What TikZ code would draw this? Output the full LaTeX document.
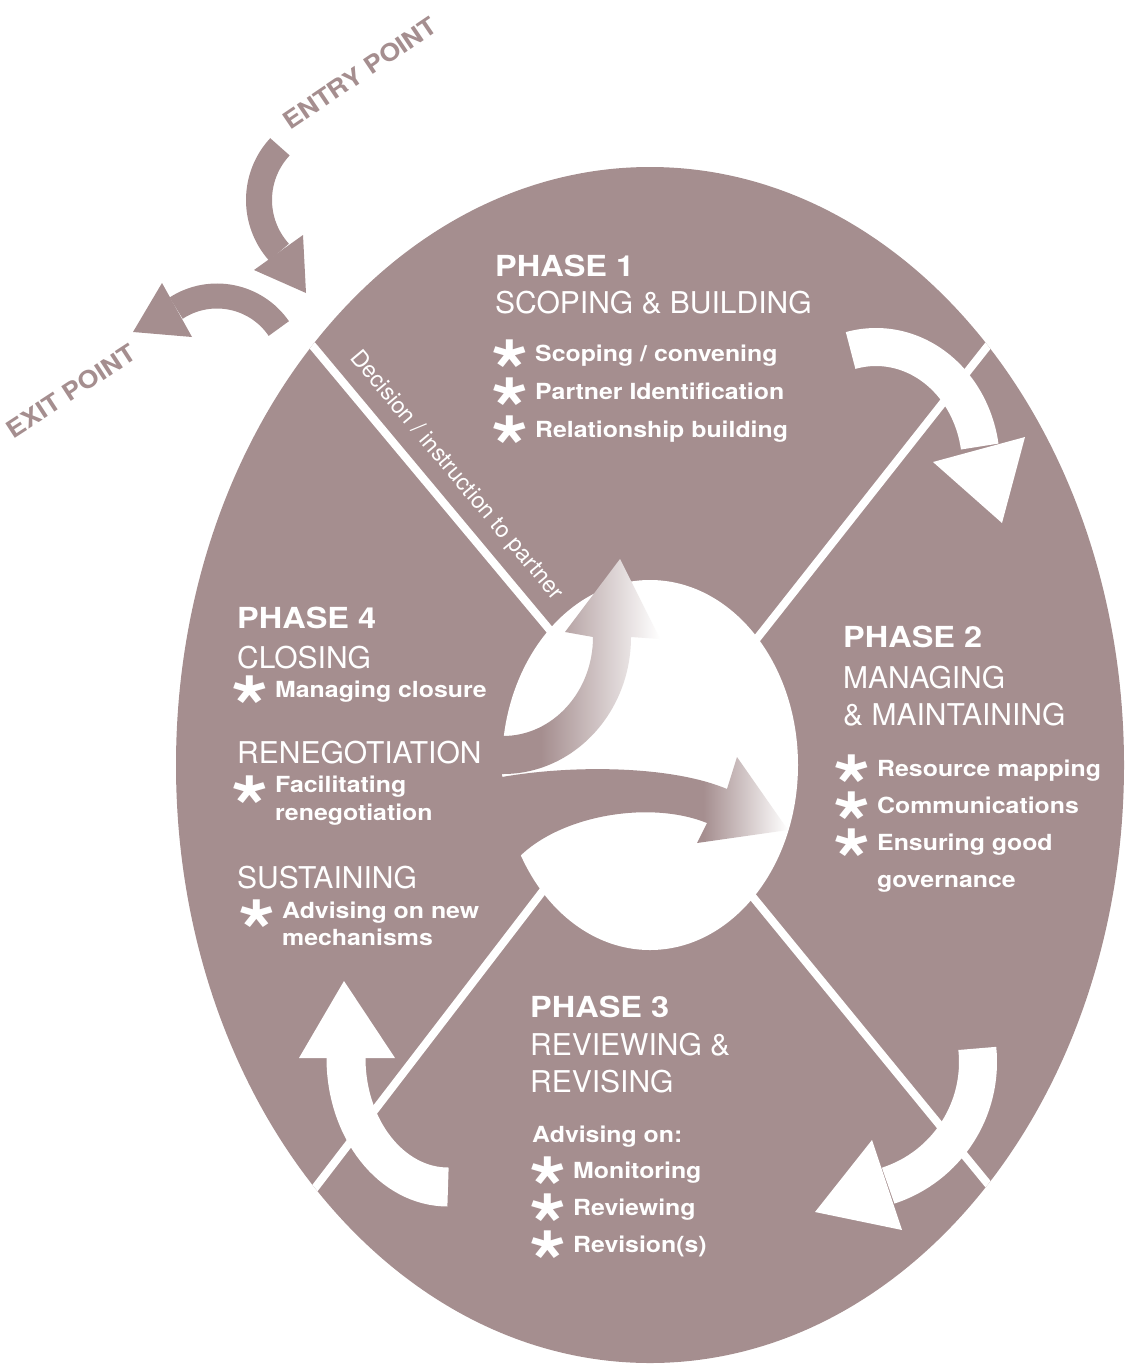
\documentclass[tikz,border=0pt]{standalone}
\usepackage{fontspec}
\setmainfont{TeX Gyre Heros}[BoldFeatures={FakeStretch=1.12}]
\definecolor{mauve}{RGB}{165,142,143}
\pgfdeclarehorizontalshading{upfade}{100bp}{color(0bp)=(mauve); color(40bp)=(mauve); color(75bp)=(white); color(100bp)=(white)}
\pgfdeclarehorizontalshading{rightfade}{100bp}{color(0bp)=(mauve); color(61bp)=(mauve); color(75bp)=(white); color(100bp)=(white)}
\newcommand{\itemstar}[1][0pt]{\llap{\fontsize{86}{86}\selectfont\bfseries\raisebox{\dimexpr-41.5pt-#1\relax}[0pt][0pt]{*}\hspace{6.5pt}}}

\begin{document}
\begin{tikzpicture}[x=1pt, y=1pt,
  phasehead/.style={font=\fontsize{29}{29}\selectfont\bfseries, text=white, anchor=base west, inner sep=0pt},
  phasename/.style={font=\fontsize{30}{30}\selectfont, text=white, anchor=base west, inner sep=0pt},
  task/.style={font=\fontsize{22.2}{22.2}\selectfont\bfseries, text=white, anchor=base west, inner sep=0pt},
  waylabel/.style={font=\fontsize{24}{24}\selectfont\bfseries, text=mauve, inner sep=0pt},
  divider/.style={white, line width=8pt},
  band/.style={line width=38pt}]
  \useasboundingbox (0,0) rectangle (1125,-1365);

  \fill[mauve] (650,-765) ellipse[x radius=474, y radius=598];
  \begin{scope}
    \clip (650,-765) ellipse[x radius=474, y radius=598];
    \draw[divider] (291,-320) -- (650,-750);
    \draw[divider] (1009,-319) -- (669,-750);
    \draw[divider] (657,-780) -- (1010,-1211);
    \draw[divider] (628,-780) -- (295,-1214);
  \end{scope}
  \fill[white] (650,-765) ellipse[x radius=148, y radius=185];

  \shade[shading=upfade] (490,-736) -- (503,-736) arc[start angle=270, end angle=360, x radius=90, y radius=99]
    -- (565,-632) -- (620,-559) -- (660,-639) -- (631,-637)
    arc[start angle=0, end angle=-90, x radius=128, y radius=137] -- (490,-774) -- cycle;
  \shade[shading=rightfade] (485,-778) -- (502,-777) .. controls (570,-765) and (670,-765) .. (727,-789)
    -- (737,-757) -- (788,-830) -- (697,-843) -- (707,-823)
    .. controls (650,-800) and (560,-815) .. (518,-858) -- (485,-860) -- cycle;

  \draw[band, white] (876,-465) ++(104:105 and 118) arc[start angle=104, end angle=9, x radius=105, y radius=118];
  \fill[white] (933,-462) -- (1002,-523) -- (1025,-437) -- cycle;
  \draw[band, white] (848,-1062) ++(6:130) arc[start angle=6, end angle=-72, radius=130];
  \fill[white] (872,-1140) -- (815,-1212) -- (902,-1230) -- cycle;
  \draw[band, white, line width=39pt] (448,-1058) ++(270:102 and 129) arc[start angle=270, end angle=180, x radius=102, y radius=129];
  \fill[white] (299,-1058) -- (344,-981) -- (395,-1058) -- cycle;

  \draw[mauve, line width=26pt] (337,-200) ++(137:78) arc[start angle=137, end angle=222, radius=78];
  \fill[mauve] (254,-270) -- (306,-293) -- (303,-235) -- cycle;
  \draw[mauve, line width=25pt] (217,-371) ++(34.5:75) arc[start angle=34.5, end angle=123, radius=75];
  \fill[mauve] (162,-283) -- (133,-332) -- (192,-337) -- cycle;

  \node[waylabel, rotate=34] (entry) at (360,-73) {ENTRY POINT};
  \node[waylabel, rotate=33] (exit) at (71,-391) {EXIT POINT};
  \node[font=\fontsize{23}{23}\selectfont, text=white, inner sep=0pt, rotate=-50] (decision) at (456,-476) {Decision / instruction to partner};

  \node[phasehead] (p1) at (495,-276) {PHASE 1};
  \node[phasename] (p1name) at (495,-313) {SCOPING \& BUILDING};
  \node[task] (p1a) at (535,-361) {\itemstar Scoping / convening};
  \node[task] (p1b) at (535,-399) {\itemstar Partner Identification};
  \node[task] (p1c) at (535,-437) {\itemstar Relationship building};

  \node[phasehead] (p2) at (843,-647) {PHASE 2};
  \node[phasename] (p2name) at (843,-688) {MANAGING};
  \node[phasename] (p2more) at (843,-725) {\& MAINTAINING};
  \node[task] (p2a) at (877,-776) {\itemstar Resource mapping};
  \node[task] (p2b) at (877,-813) {\itemstar Communications};
  \node[task] (p2c) at (877,-850) {\itemstar Ensuring good};
  \node[task] (p2d) at (877,-887) {governance};

  \node[phasehead] (p3) at (530,-1017) {PHASE 3};
  \node[phasename] (p3name) at (530,-1055) {REVIEWING \&};
  \node[phasename] (p3more) at (530,-1092) {REVISING};
  \node[task] (p3lead) at (532,-1142) {Advising on:};
  \node[task] (p3a) at (573,-1178) {\itemstar Monitoring};
  \node[task] (p3b) at (573,-1215) {\itemstar Reviewing};
  \node[task] (p3c) at (573,-1252) {\itemstar Revision(s)};

  \node[phasehead] (p4) at (237,-628) {PHASE 4};
  \node[phasename] (p4name) at (237,-668) {CLOSING};
  \node[task] (p4a) at (275,-697) {\itemstar Managing closure};
  \node[phasename] (p4reneg) at (237,-763) {RENEGOTIATION};
  \node[task] (p4b) at (275,-792) {\itemstar[5pt]Facilitating};
  \node[task] (p4c) at (275,-820) {renegotiation};
  \node[phasename] (p4sust) at (237,-888) {SUSTAINING};
  \node[task] (p4d) at (282,-918) {\itemstar[3pt]Advising on new};
  \node[task] (p4e) at (282,-945) {mechanisms};
\end{tikzpicture}
\end{document}
